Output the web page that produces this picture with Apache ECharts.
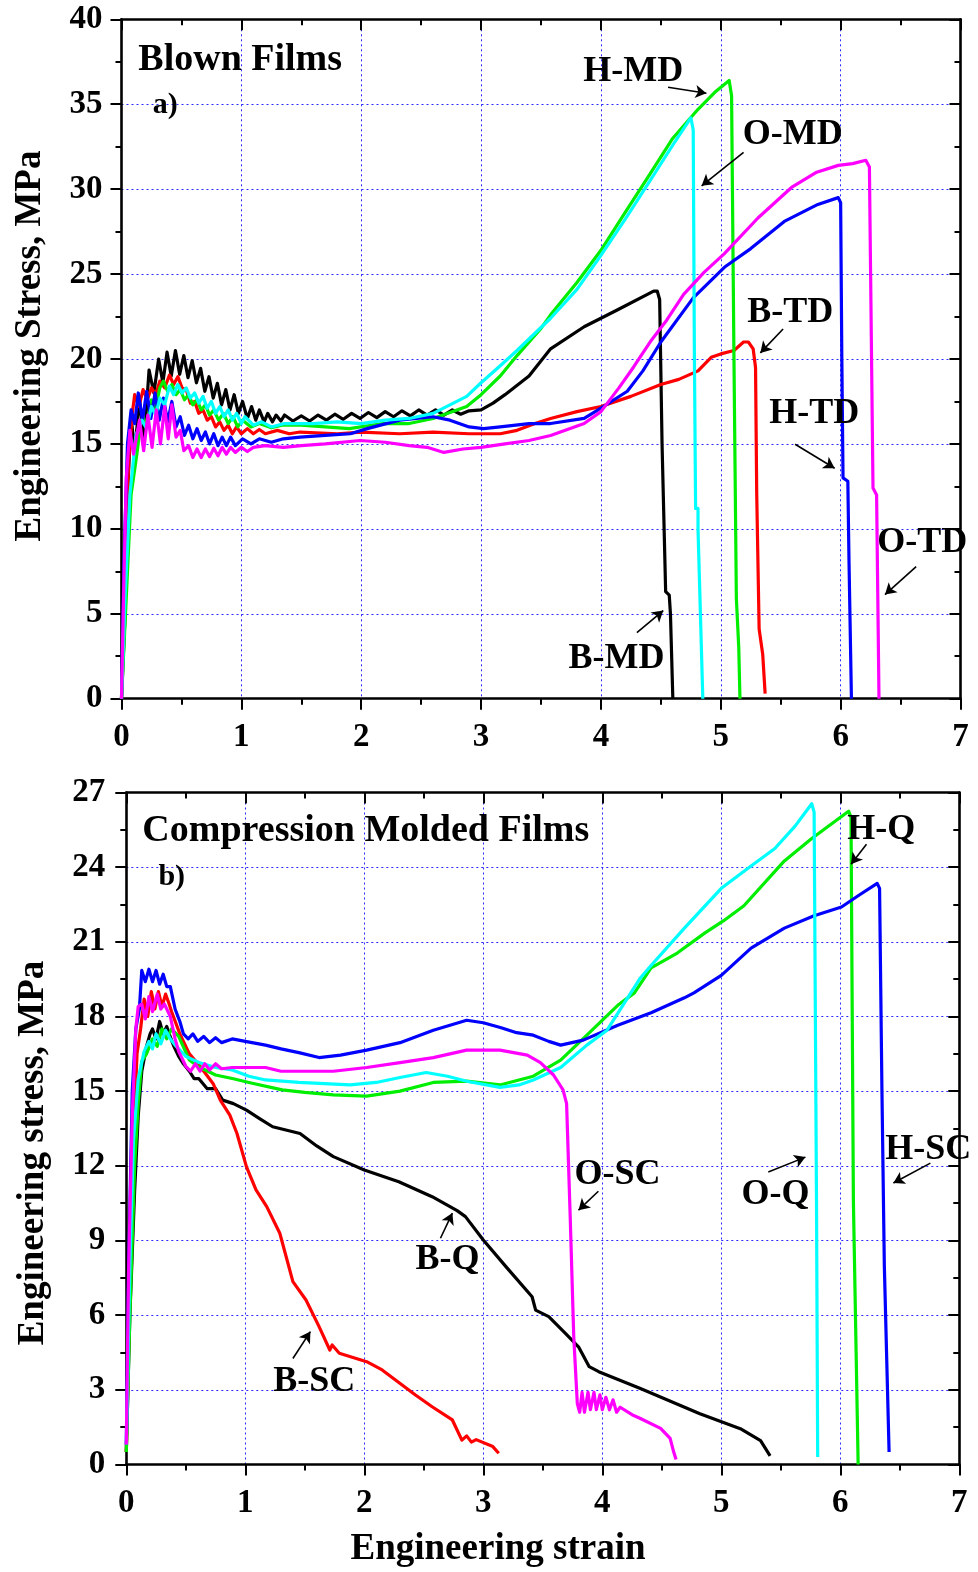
<!DOCTYPE html>
<html>
<head>
<meta charset="utf-8">
<script src="https://cdn.jsdelivr.net/npm/echarts@6/dist/echarts.min.js"></script>
<style>html,body{margin:0;padding:0;background:#fff}#c{width:978px;height:1572px}</style>
</head>
<body>
<div id="c"></div>
<script>
// ---------- tick values ----------
const xTickMin = 0, xTickMax = 7, xTickStep = 1;
const topYMin = 0, topYMax = 40, topYStep = 5;
const botYMin = 0, botYMax = 27, botYStep = 3;

// ---------- (a) Blown films : [strain, stress] ----------
const blownNames = ['B-MD', 'B-TD', 'H-MD', 'H-TD', 'O-MD', 'O-TD'];
const B_MD = [[0,0],[0.03,5],[0.05,12],[0.08,16.6],[0.11,14.5],[0.15,17.6],[0.19,15.3],[0.23,19.35],[0.27,18.0],[0.31,20.0],[0.345,18.6],[0.38,20.4],[0.415,19.0],[0.45,20.5],[0.485,19.1],[0.52,20.2],[0.555,18.9],[0.59,19.9],[0.625,18.6],[0.66,19.45],[0.695,18.1],[0.73,18.96],[0.765,17.7],[0.80,18.57],[0.835,17.3],[0.87,18.2],[0.905,17.0],[0.94,17.9],[0.975,16.8],[1.01,17.5],[1.05,16.5],[1.085,17.2],[1.12,16.4],[1.15,17.0],[1.19,16.3],[1.22,16.8],[1.26,16.3],[1.29,16.7],[1.33,16.35],[1.36,16.7],[1.43,16.35],[1.5,16.65],[1.57,16.35],[1.64,16.7],[1.71,16.4],[1.78,16.75],[1.85,16.45],[1.92,16.8],[1.99,16.5],[2.06,16.85],[2.13,16.55],[2.2,16.9],[2.27,16.6],[2.34,16.95],[2.41,16.65],[2.48,17.0],[2.55,16.7],[2.62,17.0],[2.69,16.7],[2.76,17.0],[2.83,16.75],[2.9,16.95],[3.0,17.0],[3.1,17.4],[3.2,17.9],[3.4,19.0],[3.58,20.6],[3.86,21.9],[4.14,22.9],[4.44,24.0],[4.47,24.0],[4.49,23.5],[4.51,15],[4.54,6.3],[4.57,6.1],[4.58,5],[4.6,0]];
const B_TD = [[0,0],[0.03,7],[0.06,14],[0.09,16.8],[0.11,17.9],[0.145,17.2],[0.18,18.2],[0.215,17.6],[0.25,18.3],[0.285,17.9],[0.32,18.7],[0.36,18.3],[0.40,19.05],[0.435,18.5],[0.47,18.96],[0.505,18.3],[0.54,18.2],[0.575,17.4],[0.61,17.5],[0.645,16.8],[0.68,17.0],[0.715,16.4],[0.75,16.6],[0.785,16.0],[0.82,16.3],[0.855,15.8],[0.89,16.1],[0.925,15.6],[0.96,16.0],[1.0,15.6],[1.05,15.9],[1.1,15.6],[1.15,15.85],[1.2,15.6],[1.3,15.8],[1.4,15.6],[1.49,15.7],[1.8,15.6],[2.0,15.7],[2.32,15.6],[2.6,15.7],[2.9,15.6],[3.16,15.6],[3.3,15.8],[3.45,16.2],[3.58,16.5],[3.8,16.9],[4.0,17.2],[4.25,17.8],[4.5,18.5],[4.65,18.8],[4.81,19.3],[4.92,20.1],[5.0,20.3],[5.11,20.5],[5.19,21.0],[5.23,21.0],[5.27,20.6],[5.29,19.5],[5.3,12],[5.32,4.1],[5.35,2.6],[5.37,0.3]];
const H_MD = [[0,0],[0.04,6],[0.08,12],[0.13,14.5],[0.16,16.2],[0.18,16.6],[0.21,16.0],[0.25,17.6],[0.28,17.0],[0.32,18.3],[0.35,18.7],[0.385,18.1],[0.42,18.5],[0.455,17.9],[0.49,18.2],[0.525,17.6],[0.56,17.9],[0.595,17.3],[0.63,17.6],[0.665,17.0],[0.70,17.3],[0.735,16.7],[0.77,17.0],[0.81,16.4],[0.85,16.8],[0.89,16.2],[0.93,16.6],[0.97,16.0],[1.01,16.4],[1.08,16.0],[1.15,16.2],[1.25,15.95],[1.34,16.1],[1.5,16.1],[1.7,16.0],[1.9,15.9],[2.18,16.2],[2.4,16.2],[2.6,16.5],[2.88,17.2],[3.0,17.9],[3.16,19.0],[3.3,20.2],[3.5,21.8],[3.58,22.6],[3.8,24.5],[4.0,26.4],[4.2,28.6],[4.41,30.9],[4.6,33.0],[4.81,34.7],[4.95,35.7],[5.07,36.4],[5.09,35.5],[5.11,20],[5.13,5.9],[5.14,6.0],[5.15,3],[5.16,0]];
const H_TD = [[0,0],[0.02,8],[0.05,15],[0.08,17.0],[0.11,16.2],[0.14,18.0],[0.175,16.4],[0.21,18.1],[0.245,16.5],[0.28,18.0],[0.315,16.4],[0.35,17.7],[0.385,16.3],[0.42,17.5],[0.455,16.0],[0.49,16.6],[0.525,15.5],[0.56,16.1],[0.595,15.3],[0.63,15.9],[0.665,15.2],[0.70,15.7],[0.735,15.0],[0.77,15.6],[0.805,14.9],[0.84,15.4],[0.875,14.9],[0.91,15.4],[0.95,14.9],[1.01,15.3],[1.08,15.0],[1.15,15.3],[1.25,15.1],[1.35,15.3],[1.49,15.4],[1.7,15.5],[1.91,15.6],[2.05,15.9],[2.32,16.4],[2.6,16.6],[2.74,16.4],[2.9,16.0],[3.02,15.9],[3.16,16.0],[3.4,16.2],[3.58,16.2],[3.86,16.5],[4.02,17.2],[4.22,18.1],[4.35,19.3],[4.5,21.0],[4.77,23.6],[5.03,25.4],[5.25,26.5],[5.53,28.1],[5.81,29.1],[5.98,29.5],[6.0,29.2],[6.01,20],[6.02,13.0],[6.06,12.8],[6.07,8],[6.09,0]];
const O_MD = [[0,0],[0.03,6],[0.07,12],[0.12,15.5],[0.17,16.4],[0.21,15.9],[0.25,17.2],[0.285,16.7],[0.32,17.7],[0.36,17.3],[0.40,18.4],[0.435,17.9],[0.47,18.5],[0.505,18.0],[0.54,18.3],[0.575,17.7],[0.61,18.0],[0.645,17.4],[0.68,17.8],[0.715,17.1],[0.75,17.5],[0.785,16.8],[0.82,17.2],[0.855,16.6],[0.89,17.0],[0.925,16.4],[0.96,16.8],[1.0,16.2],[1.03,16.6],[1.1,16.1],[1.17,16.3],[1.25,16.0],[1.36,16.2],[1.5,16.2],[1.6,16.2],[1.8,16.3],[2.0,16.2],[2.2,16.4],[2.4,16.5],[2.6,16.8],[2.88,17.8],[3.0,18.6],[3.16,19.6],[3.3,20.5],[3.58,22.4],[3.8,24.1],[4.0,26.1],[4.2,28.2],[4.41,30.5],[4.6,32.6],[4.75,34.2],[4.77,33.5],[4.78,20],[4.79,11.2],[4.81,11.2],[4.81,10.0],[4.85,0]];
const O_TD = [[0,0],[0.02,7],[0.04,13],[0.07,15.8],[0.1,14.4],[0.15,16.4],[0.185,14.6],[0.22,16.7],[0.255,14.8],[0.29,17.0],[0.325,15.0],[0.36,17.2],[0.39,15.3],[0.42,17.3],[0.455,15.4],[0.49,15.8],[0.52,14.6],[0.56,14.9],[0.595,14.2],[0.63,14.7],[0.665,14.2],[0.70,14.7],[0.735,14.25],[0.77,14.75],[0.805,14.3],[0.84,14.8],[0.875,14.4],[0.91,14.8],[0.95,14.5],[1.0,14.8],[1.05,14.55],[1.1,14.8],[1.2,14.9],[1.35,14.8],[1.5,14.9],[1.7,15.0],[1.99,15.2],[2.2,15.1],[2.4,14.9],[2.55,14.8],[2.69,14.5],[2.85,14.7],[3.0,14.8],[3.2,15.0],[3.4,15.2],[3.58,15.5],[3.86,16.2],[4.0,16.9],[4.15,18.3],[4.27,19.5],[4.41,21.0],[4.55,22.3],[4.69,23.8],[4.86,25.1],[5.03,26.2],[5.31,28.3],[5.59,30.1],[5.8,31.0],[5.98,31.4],[6.1,31.5],[6.21,31.7],[6.24,31.3],[6.25,25],[6.27,12.4],[6.3,12.0],[6.31,6],[6.32,0]];

// ---------- (b) Compression molded films : [strain, stress] ----------
const moldedNames = ['B-Q', 'B-SC', 'H-Q', 'H-SC', 'O-Q', 'O-SC'];
const B_Q = [[0,0.5],[0.03,6],[0.07,11],[0.1,14],[0.13,15.8],[0.17,16.8],[0.2,17.3],[0.22,17.5],[0.25,17.1],[0.28,17.8],[0.31,17.3],[0.34,17.6],[0.36,17.3],[0.4,16.8],[0.44,16.4],[0.48,16.1],[0.53,15.8],[0.57,15.5],[0.61,15.5],[0.68,15.1],[0.75,15.1],[0.81,14.64],[0.9,14.5],[1.01,14.24],[1.12,13.9],[1.23,13.57],[1.46,13.3],[1.6,12.8],[1.74,12.37],[2.0,11.83],[2.29,11.36],[2.57,10.76],[2.78,10.2],[2.85,9.96],[3.0,9.02],[3.19,7.95],[3.41,6.74],[3.44,6.2],[3.55,5.94],[3.69,5.27],[3.80,4.73],[3.89,3.93],[3.97,3.73],[4.32,3.05],[4.82,2.04],[5.16,1.44],[5.33,0.96],[5.41,0.35]];
const B_SC = [[0,0.5],[0.03,7],[0.06,13],[0.09,16.5],[0.12,17.5],[0.15,18.7],[0.18,18.0],[0.21,19.0],[0.24,18.3],[0.27,19.0],[0.3,18.4],[0.33,18.9],[0.36,18.5],[0.38,18.2],[0.45,17.3],[0.53,16.5],[0.62,16.0],[0.73,15.3],[0.79,14.64],[0.87,14.04],[0.93,13.3],[1.01,11.96],[1.09,11.03],[1.18,10.36],[1.29,9.29],[1.40,7.35],[1.51,6.61],[1.62,5.54],[1.71,4.6],[1.73,4.8],[1.79,4.47],[2.02,4.13],[2.15,3.8],[2.43,2.79],[2.57,2.32],[2.74,1.79],[2.82,0.98],[2.86,1.15],[2.9,0.9],[2.94,1.0],[3.08,0.72],[3.13,0.45]];
const H_Q = [[0,0.5],[0.03,6],[0.07,12],[0.1,14.5],[0.13,16.2],[0.17,16.5],[0.22,17.1],[0.26,16.8],[0.3,17.5],[0.34,17.1],[0.38,17.5],[0.44,17.2],[0.53,16.25],[0.6,16.0],[0.75,15.65],[0.9,15.5],[1.03,15.35],[1.31,15.05],[1.5,14.95],[1.74,14.85],[2.02,14.8],[2.3,15.0],[2.58,15.35],[2.86,15.4],[3.14,15.25],[3.42,15.6],[3.65,16.25],[3.87,17.25],[4.13,18.45],[4.27,18.95],[4.41,19.95],[4.63,20.55],[4.86,21.35],[5.02,21.85],[5.19,22.45],[5.53,24.25],[5.76,25.15],[6.07,26.25],[6.09,26.0],[6.11,10.6],[6.15,0]];
const H_SC = [[0,0.8],[0.02,8],[0.05,15],[0.08,17.5],[0.11,18.3],[0.13,19.85],[0.16,19.4],[0.19,19.9],[0.22,19.4],[0.25,19.85],[0.28,19.3],[0.31,19.7],[0.34,19.2],[0.37,19.2],[0.41,18.3],[0.45,17.8],[0.48,17.3],[0.52,17.1],[0.56,17.3],[0.6,17.0],[0.65,17.2],[0.7,16.95],[0.75,17.15],[0.8,16.95],[0.89,17.1],[1.0,17.0],[1.17,16.85],[1.3,16.7],[1.45,16.55],[1.62,16.35],[1.8,16.45],[2.02,16.65],[2.3,16.95],[2.58,17.45],[2.86,17.85],[3.0,17.75],[3.15,17.55],[3.28,17.35],[3.42,17.25],[3.55,17.0],[3.65,16.85],[3.84,17.05],[4.13,17.65],[4.41,18.15],[4.69,18.75],[4.77,18.95],[5.0,19.65],[5.25,20.75],[5.53,21.55],[5.78,22.05],[6.01,22.4],[6.15,22.85],[6.31,23.35],[6.33,23.15],[6.35,15],[6.37,8],[6.41,0.5]];
const O_Q = [[0,0.8],[0.03,8],[0.06,13],[0.1,15.5],[0.15,16.6],[0.19,17.0],[0.22,16.7],[0.25,17.3],[0.29,16.9],[0.33,17.45],[0.37,17.1],[0.41,16.85],[0.5,16.4],[0.61,16.15],[0.75,15.95],[0.89,15.85],[1.03,15.6],[1.17,15.45],[1.45,15.35],[1.88,15.25],[2.1,15.35],[2.3,15.55],[2.52,15.75],[2.7,15.6],[2.86,15.4],[3.14,15.15],[3.3,15.25],[3.42,15.45],[3.65,15.95],[3.87,16.85],[4.04,17.45],[4.32,19.55],[4.41,20.05],[4.69,21.55],[5.0,23.15],[5.25,24.05],[5.45,24.75],[5.62,25.65],[5.76,26.55],[5.78,26.2],[5.80,10.6],[5.81,0.3]];
const O_SC = [[0,0.8],[0.02,8],[0.05,14],[0.08,17.5],[0.1,18.4],[0.13,18.5],[0.16,17.9],[0.19,18.8],[0.22,18.2],[0.26,18.9],[0.29,18.3],[0.32,18.5],[0.37,18.0],[0.41,17.1],[0.44,16.6],[0.47,16.3],[0.5,16.0],[0.54,15.8],[0.58,16.1],[0.62,15.8],[0.66,16.1],[0.7,15.85],[0.75,16.1],[0.8,15.9],[0.89,15.95],[1.0,15.95],[1.17,15.95],[1.3,15.8],[1.45,15.8],[1.74,15.8],[2.02,15.95],[2.3,16.15],[2.58,16.35],[2.86,16.65],[3.14,16.65],[3.37,16.45],[3.48,16.15],[3.59,15.65],[3.67,15.05],[3.70,14.5],[3.73,10],[3.76,5.15],[3.79,2.45],[3.81,2.1],[3.83,2.9],[3.85,2.1],[3.88,2.9],[3.9,2.2],[3.93,2.9],[3.95,2.2],[3.98,2.8],[4.0,2.2],[4.03,2.7],[4.06,2.2],[4.09,2.6],[4.12,2.1],[4.15,2.3],[4.25,2.0],[4.32,1.85],[4.49,1.45],[4.57,1.05],[4.6,0.5],[4.62,0.2]];

// ---------- annotations : [text, labelX, labelY, arrowFromX, arrowFromY, arrowToX, arrowToY] ----------
const topNotes = [
  ['H-MD', 4.27, 36.9, 4.56, 36.0, 4.88, 35.65],
  ['O-MD', 5.60, 33.2, 5.19, 32.16, 4.84, 30.2],
  ['B-TD', 5.58, 22.7, 5.52, 21.77, 5.33, 20.36],
  ['H-TD', 5.78, 16.75, 5.62, 14.98, 5.95, 13.57],
  ['O-TD', 6.68, 9.2, 6.63, 7.78, 6.37, 6.13],
  ['B-MD', 4.13, 2.35, 4.30, 3.89, 4.52, 5.19]
];
const botNotes = [
  ['H-Q', 6.345, 25.5, 6.22, 24.92, 6.09, 24.12],
  ['H-SC', 6.74, 12.65, 6.757, 12.11, 6.446, 11.31],
  ['O-Q', 5.455, 10.83, 5.395, 11.75, 5.707, 12.35],
  ['O-SC', 4.127, 11.64, 3.967, 10.98, 3.80, 10.22],
  ['B-Q', 2.70, 8.21, 2.64, 9.09, 2.74, 10.1],
  ['B-SC', 1.58, 3.34, 1.40, 4.26, 1.547, 5.34]
];
const topTitle = ['Blown Films', 0.14, 37.6];
const topTag = ['a)', 0.26, 34.95];
const botTitle = ['Compression Molded Films', 0.135, 25.45];
const botTag = ['b)', 0.27, 23.6];

const colors = ['#000000', '#ff0000', '#00ee00', '#0000ff', '#00ffff', '#ff00ff'];
const FONT = '"Liberation Serif", "Times New Roman", serif';

const grids = [
  {left: 121.5, top: 19.3, width: 839, height: 679.4},
  {left: 126.3, top: 792.5, width: 833, height: 672}
];

function xAxes(gi) {
  const common = {
    type: 'value', gridIndex: gi, min: xTickMin, max: xTickMax, interval: xTickStep,
    axisLine: {show: true, onZero: false, lineStyle: {color: '#000', width: 2.6}},
    minorTick: {show: true, splitNumber: 2, length: 6, lineStyle: {color: '#000', width: 2}}
  };
  return [
    Object.assign({}, common, {
      position: 'bottom',
      axisTick: {show: true, inside: false, length: 11, lineStyle: {color: '#000', width: 2}},
      axisLabel: {show: true, fontFamily: FONT, fontWeight: 'bold', fontSize: 33, color: '#000', margin: 22},
      splitLine: {show: true, lineStyle: {color: '#2a2aff', type: [2, 3], width: 1}}
    }),
    Object.assign({}, common, {
      position: 'top',
      axisTick: {show: true, inside: true, length: 11, lineStyle: {color: '#000', width: 2}},
      axisLabel: {show: false}, splitLine: {show: false}
    })
  ];
}
function yAxes(gi, mn, mx, step, margin) {
  const common = {
    type: 'value', gridIndex: gi, min: mn, max: mx, interval: step,
    axisLine: {show: true, onZero: false, lineStyle: {color: '#000', width: 2.6}},
    minorTick: {show: true, splitNumber: 2, length: 6, lineStyle: {color: '#000', width: 2}}
  };
  return [
    Object.assign({}, common, {
      position: 'left',
      axisTick: {show: true, inside: false, length: 11, lineStyle: {color: '#000', width: 2}},
      axisLabel: {show: true, fontFamily: FONT, fontWeight: 'bold', fontSize: 33, color: '#000', margin: margin},
      splitLine: {show: true, lineStyle: {color: '#2a2aff', type: [2, 3], width: 1}}
    }),
    Object.assign({}, common, {
      position: 'right',
      axisTick: {show: true, inside: true, length: 11, lineStyle: {color: '#000', width: 2}},
      axisLabel: {show: false}, splitLine: {show: false}
    })
  ];
}

function curve(name, data, color, xi, yi) {
  return {
    name: name, type: 'line', xAxisIndex: xi, yAxisIndex: yi, data: data,
    showSymbol: false, symbol: 'none', smooth: false, animation: false,
    lineStyle: {color: color, width: 3.2, join: 'round'}, z: 3
  };
}

function labelPoint(t, x, y, size, align) {
  return {
    coord: [x, y], value: t, symbol: 'circle', symbolSize: 0,
    label: {show: true, position: 'inside', formatter: t, align: align || 'center', verticalAlign: 'middle',
      fontFamily: FONT, fontWeight: 'bold', fontSize: size, color: '#000'}
  };
}

function annotationSeries(notes, title, tag, xi, yi) {
  const points = notes.map(n => labelPoint(n[0], n[1], n[2], 36));
  points.push(labelPoint(title[0], title[1], title[2], 38, 'left'));
  points.push(labelPoint(tag[0], tag[1], tag[2], 30, 'left'));
  const lines = notes.map(n => [
    {coord: [n[3], n[4]], symbol: 'none'},
    {coord: [n[5], n[6]], symbol: 'arrow'}
  ]);
  return {
    type: 'line', xAxisIndex: xi, yAxisIndex: yi, data: [], animation: false, silent: true, z: 5,
    markPoint: {silent: true, animation: false, data: points},
    markLine: {silent: true, animation: false, symbol: ['none', 'arrow'], symbolSize: [10, 11],
      lineStyle: {color: '#000', width: 1.6, type: 'solid'}, label: {show: false}, data: lines}
  };
}

const topData = [B_MD, B_TD, H_MD, H_TD, O_MD, O_TD];
const botData = [B_Q, B_SC, H_Q, H_SC, O_Q, O_SC];

const series = [];
blownNames.forEach((n, i) => series.push(curve(n, topData[i], colors[i], 0, 0)));
moldedNames.forEach((n, i) => series.push(curve(n, botData[i], colors[i], 2, 2)));
series.push(annotationSeries(topNotes, topTitle, topTag, 0, 0));
series.push(annotationSeries(botNotes, botTitle, botTag, 2, 2));

const chart = echarts.init(document.getElementById('c'), null, {renderer: 'canvas'});
chart.setOption({
  animation: false,
  backgroundColor: '#ffffff',
  grid: grids,
  xAxis: xAxes(0).concat(xAxes(1)),
  yAxis: yAxes(0, topYMin, topYMax, topYStep, 19).concat(yAxes(1, botYMin, botYMax, botYStep, 21)),
  graphic: [
    {type: 'text', x: 30, y: 346, rotation: Math.PI / 2,
      style: {text: 'Engineering Stress, MPa', font: 'bold 37px ' + FONT, fill: '#000', align: 'center', verticalAlign: 'middle'}},
    {type: 'text', x: 33, y: 1153, rotation: Math.PI / 2,
      style: {text: 'Engineering stress, MPa', font: 'bold 37px ' + FONT, fill: '#000', align: 'center', verticalAlign: 'middle'}},
    {type: 'text', x: 498, y: 1549,
      style: {text: 'Engineering strain', font: 'bold 37px ' + FONT, fill: '#000', align: 'center', verticalAlign: 'middle'}}
  ],
  series: series
});
</script>
</body>
</html>
